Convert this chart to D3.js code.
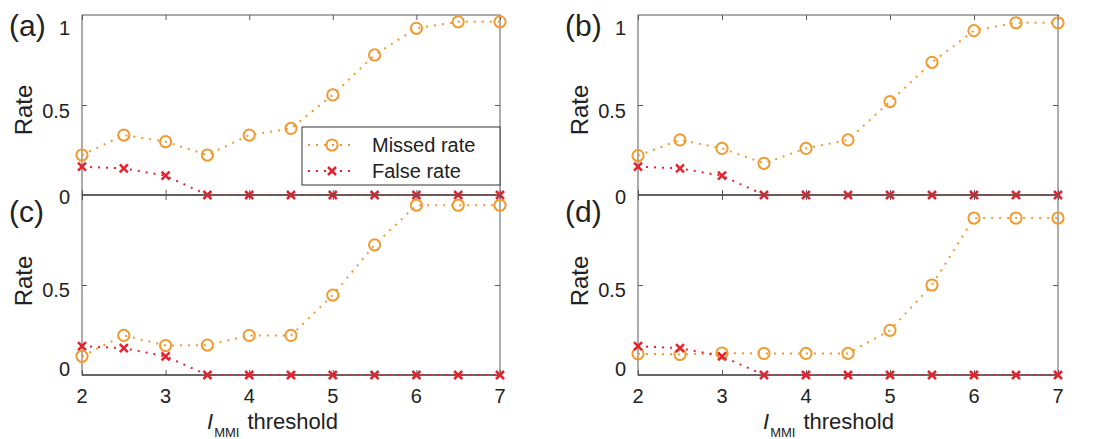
<!DOCTYPE html>
<html>
<head>
<meta charset="utf-8">
<script src="https://cdn.jsdelivr.net/npm/d3@7/dist/d3.min.js"></script>
<style>
  html, body { margin: 0; padding: 0; background: #fff; }
  svg { display: block; font-family: "Liberation Sans", Arial, Helvetica, sans-serif; }
</style>
</head>
<body>
<svg id="chart" width="1096" height="439"></svg>
<script>
// ---------------- data ----------------
const thresholds = [2, 2.5, 3, 3.5, 4, 4.5, 5, 5.5, 6, 6.5, 7];
const missedA = [0.222, 0.333, 0.296, 0.222, 0.333, 0.370, 0.556, 0.778, 0.926, 0.962, 0.962];
const falseA  = [0.157, 0.148, 0.107, 0, 0, 0, 0, 0, 0, 0, 0];
const missedB = [0.219, 0.306, 0.259, 0.176, 0.259, 0.306, 0.519, 0.737, 0.913, 0.957, 0.957];
const falseB  = [0.157, 0.148, 0.107, 0, 0, 0, 0, 0, 0, 0, 0];
const missedC = [0.104, 0.220, 0.164, 0.166, 0.220, 0.220, 0.444, 0.723, 0.943, 0.943, 0.943];
const falseC  = [0.160, 0.149, 0.104, 0, 0, 0, 0, 0, 0, 0, 0];
const missedD = [0.118, 0.114, 0.122, 0.120, 0.120, 0.120, 0.248, 0.500, 0.872, 0.872, 0.872];
const falseD  = [0.160, 0.149, 0.104, 0, 0, 0, 0, 0, 0, 0, 0];
const panelLabels = ["(a)", "(b)", "(c)", "(d)"];
const xTickValues = [2, 3, 4, 5, 6, 7];
const yTickLabelsTop = [0, 0.5, 1];
const yTickLabelsBottom = [0, 0.5];
const seriesNames = ["Missed rate", "False rate"];
const xTitleMain = "I";
const xTitleSub = "MMI";
const xTitleRest = "threshold";
const yTitle = "Rate";

// ---------------- style / layout ----------------
const ORANGE = "#F09A30";
const RED = "#E3232D";
const FRAME = "#5a5a5a";
const DASH = "2,6";
const svg = d3.select("#chart");
svg.append("rect").attr("width", 1096).attr("height", 439).attr("fill", "#fff");

const panels = [
  { label: panelLabels[0], missed: missedA, fls: falseA, left: 82,  top: 15,  w: 418, h: 180, row: 0, legend: true },
  { label: panelLabels[1], missed: missedB, fls: falseB, left: 638, top: 15,  w: 420, h: 180, row: 0 },
  { label: panelLabels[2], missed: missedC, fls: falseC, left: 82,  top: 195, w: 418, h: 180, row: 1 },
  { label: panelLabels[3], missed: missedD, fls: falseD, left: 638, top: 195, w: 420, h: 180, row: 1 }
];

// per-label vertical nudges as placed in the original figure
const labelShiftTop = v => (v === 1 ? 13 : v === 0.5 ? 6 : 2);
const labelShiftBottom = v => (v === 0.5 ? 5 : -6);

function drawMarker(g, type, x, y) {
  if (type === "circle") {
    g.append("circle").attr("cx", x).attr("cy", y).attr("r", 5.6)
      .attr("fill", "none").attr("stroke", ORANGE).attr("stroke-width", 2);
  } else {
    const s = 4;
    g.append("path")
      .attr("d", `M${x - s},${y - s}L${x + s},${y + s}M${x - s},${y + s}L${x + s},${y - s}`)
      .attr("stroke", RED).attr("stroke-width", 2.5).attr("fill", "none");
  }
}

panels.forEach(p => {
  const x = d3.scaleLinear().domain([2, 7]).range([p.left, p.left + p.w]);
  const y = d3.scaleLinear().domain([0, 1]).range([p.top + p.h, p.top]);
  const g = svg.append("g");

  // frame
  g.append("rect").attr("x", p.left).attr("y", p.top).attr("width", p.w).attr("height", p.h)
    .attr("fill", "none").attr("stroke", FRAME).attr("stroke-width", 1);

  // ticks (inward) via d3 axes
  const tl = 5;
  const axB = g.append("g").attr("transform", `translate(0,${y(0)})`)
    .call(d3.axisTop(x).tickValues(xTickValues).tickSize(tl).tickFormat(""));
  const axT = g.append("g").attr("transform", `translate(0,${y(1)})`)
    .call(d3.axisBottom(x).tickValues(xTickValues).tickSize(tl).tickFormat(""));
  const axL = g.append("g").attr("transform", `translate(${p.left},0)`)
    .call(d3.axisRight(y).tickValues([0.5]).tickSize(tl).tickFormat(""));
  const axR = g.append("g").attr("transform", `translate(${p.left + p.w},0)`)
    .call(d3.axisLeft(y).tickValues([0.5]).tickSize(tl).tickFormat(""));
  [axB, axT, axL, axR].forEach(a => {
    a.select(".domain").remove();
    a.selectAll("line").attr("stroke", FRAME);
  });
  // bottom axis line darker
  g.append("line").attr("x1", p.left).attr("x2", p.left + p.w)
    .attr("y1", y(0)).attr("y2", y(0)).attr("stroke", "#222").attr("stroke-width", 1);

  // y tick labels
  const yl = p.row === 0 ? yTickLabelsTop : yTickLabelsBottom;
  const shift = p.row === 0 ? labelShiftTop : labelShiftBottom;
  yl.forEach(v => {
    g.append("text").attr("x", p.left - 12).attr("y", y(v) + shift(v))
      .attr("text-anchor", "end").attr("dominant-baseline", "central")
      .attr("font-size", 20).attr("fill", "#222").text(v === 0.5 ? "0.5" : String(v));
  });

  // y title
  g.append("text")
    .attr("transform", `translate(${p.left - 59},${p.top + p.h / 2 + (p.row === 0 ? 5 : -4)}) rotate(-90)`)
    .attr("text-anchor", "middle").attr("dominant-baseline", "central")
    .attr("font-size", 24).attr("fill", "#222").text(yTitle);

  // panel label
  g.append("text").attr("x", p.left - 73).attr("y", p.row === 0 ? 36 : 222)
    .attr("font-size", 30).attr("fill", "#222").text(p.label);

  // x tick labels + title on bottom row
  if (p.row === 1) {
    xTickValues.forEach(v => {
      g.append("text").attr("x", x(v)).attr("y", 396)
        .attr("text-anchor", "middle").attr("dominant-baseline", "central")
        .attr("font-size", 20).attr("fill", "#222").text(v);
    });
    const t = g.append("text").attr("x", p.left + 125).attr("y", 429)
      .attr("font-size", 22).attr("fill", "#222");
    t.append("tspan").attr("font-style", "italic").text(xTitleMain);
    t.append("tspan").attr("font-size", 13).attr("dy", 8).attr("dx", 1).text(xTitleSub);
    t.append("tspan").attr("dy", -8).attr("dx", 8).text(xTitleRest);
  }

  // lines
  const line = d3.line().x((d, i) => x(thresholds[i])).y(d => y(d));
  g.append("path").datum(p.missed).attr("d", line)
    .attr("fill", "none").attr("stroke", ORANGE).attr("stroke-width", 2)
    .attr("stroke-dasharray", DASH);
  g.append("path").datum(p.fls).attr("d", line)
    .attr("fill", "none").attr("stroke", RED).attr("stroke-width", 2)
    .attr("stroke-dasharray", DASH);

  p.missed.forEach((v, i) => drawMarker(g, "circle", x(thresholds[i]), y(v)));
  p.fls.forEach((v, i) => drawMarker(g, "x", x(thresholds[i]), y(v)));

  // legend
  if (p.legend) {
    const lg = svg.append("g");
    lg.append("rect").attr("x", 302).attr("y", 127).attr("width", p.left + p.w - 302).attr("height", 58)
      .attr("fill", "#fff").attr("stroke", "#333").attr("stroke-width", 1);
    const rows = [{ name: seriesNames[0], color: ORANGE, type: "circle", yy: 145 },
                  { name: seriesNames[1], color: RED, type: "x", yy: 171 }];
    rows.forEach(r => {
      lg.append("line").attr("x1", 308).attr("x2", 356).attr("y1", r.yy).attr("y2", r.yy)
        .attr("stroke", r.color).attr("stroke-width", 2).attr("stroke-dasharray", DASH);
      drawMarker(lg, r.type, 332, r.yy);
      lg.append("text").attr("x", 372).attr("y", r.yy).attr("dominant-baseline", "central")
        .attr("font-size", 20).attr("fill", "#222").text(r.name);
    });
  }
});
</script>
</body>
</html>
